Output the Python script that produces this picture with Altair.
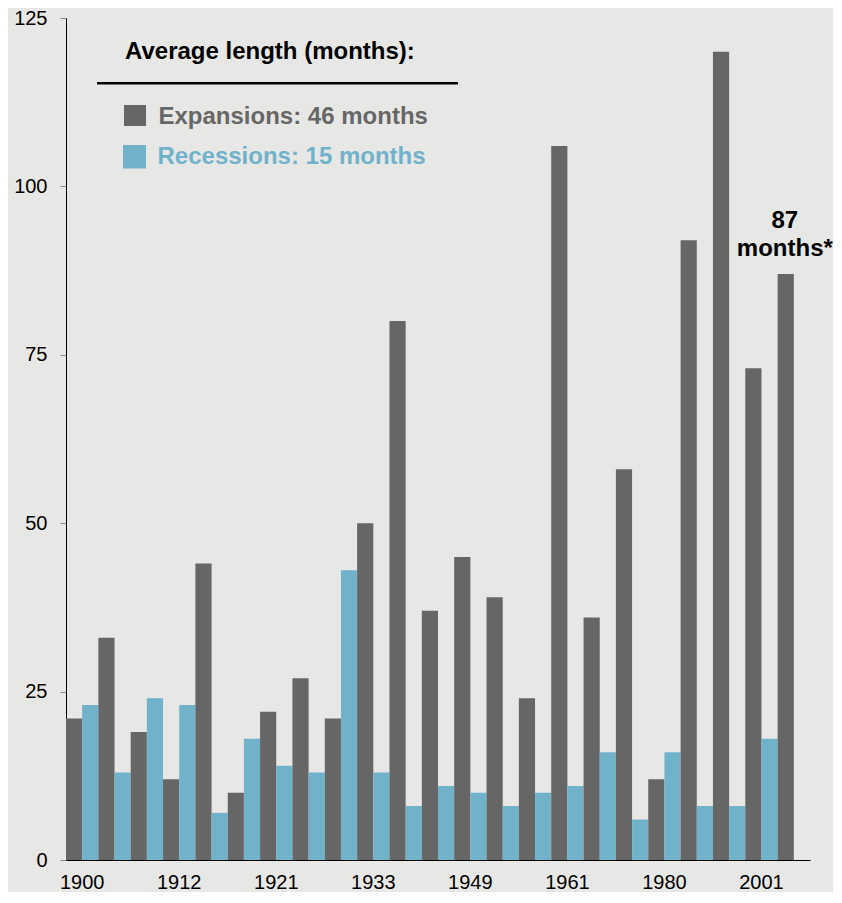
import altair as alt
import pandas as pd

# ---- data ----
years = ["1900", "1904", "1908", "1912", "1914", "1919", "1921", "1924", "1927",
         "1933", "1938", "1945", "1949", "1954", "1958", "1961", "1970", "1975",
         "1980", "1982", "1991", "2001", "2009"]
expansions = [21, 33, 19, 12, 44, 10, 22, 27, 21, 50, 80, 37, 45, 39, 24, 106,
              36, 58, 12, 92, 120, 73, 87]
recessions = [23, 13, 24, 23, 7, 18, 14, 13, 43, 13, 8, 11, 10, 8, 10, 11, 16,
              6, 16, 8, 8, 18]
shown_years = ["1900", "1912", "1921", "1933", "1949", "1961", "1980", "2001"]
series_names = ["Expansions", "Recessions"]
series_colors = ["#666666", "#71b2cb"]
legend_title = "Average length (months):"
legend_labels = ["Expansions: 46 months", "Recessions: 15 months"]
y_ticks = [0, 25, 50, 75, 100, 125]
note_lines = ["87", "months*"]

FONT = "Liberation Sans"
BG = "#e7e7e5"

rows = []
for i, yr in enumerate(years):
    rows.append({"year": yr, "series": series_names[0], "months": expansions[i]})
    if i < len(recessions):
        rows.append({"year": yr, "series": series_names[1], "months": recessions[i]})
df = pd.DataFrame(rows)

x_enc = alt.X(
    "year:N", sort=years, title=None,
    scale=alt.Scale(domain=years, paddingInner=0, paddingOuter=0),
    axis=alt.Axis(values=shown_years, ticks=False, labelAngle=0, labelFontSize=20,
                  labelFont=FONT, labelColor="black", labelPadding=12,
                  domainColor="black", domainWidth=1, grid=False),
)
y_enc = alt.Y(
    "months:Q", title=None,
    scale=alt.Scale(domain=[0, 125], nice=False),
    axis=alt.Axis(values=y_ticks, grid=False, labelFontSize=20, labelFont=FONT,
                  labelColor="black", labelPadding=13, tickSize=6, tickColor="#8a8a8a",
                  tickWidth=1, domainColor="black", domainWidth=1),
)

bars = alt.Chart(df).mark_bar().encode(
    x=x_enc,
    xOffset=alt.XOffset("series:N", sort=series_names,
                        scale=alt.Scale(domain=series_names, paddingInner=0, paddingOuter=0)),
    y=y_enc,
    color=alt.Color("series:N", scale=alt.Scale(domain=series_names, range=series_colors),
                    legend=None),
)

# ---- custom legend ----
one = pd.DataFrame({"k": [0]})
title_txt = alt.Chart(pd.DataFrame({"t": [legend_title]})).mark_text(
    align="left", baseline="alphabetic", fontSize=24, fontWeight="bold", font=FONT,
    color="black"
).encode(x=alt.value(59), y=alt.value(41), text="t:N")

rule = alt.Chart(one).mark_rule(color="black", strokeWidth=2.5).encode(
    x=alt.value(31), x2=alt.value(392), y=alt.value(65.3)
)

sq1 = alt.Chart(one).mark_rect(color=series_colors[0]).encode(
    x=alt.value(58), x2=alt.value(80), y=alt.value(87), y2=alt.value(108)
)
sq2 = alt.Chart(one).mark_rect(color=series_colors[1]).encode(
    x=alt.value(57), x2=alt.value(80), y=alt.value(127), y2=alt.value(150.5)
)
lab1 = alt.Chart(pd.DataFrame({"t": [legend_labels[0]]})).mark_text(
    align="left", baseline="alphabetic", fontSize=24, fontWeight="bold", font=FONT,
    color="#676767"
).encode(x=alt.value(92.5), y=alt.value(106), text="t:N")
lab2 = alt.Chart(pd.DataFrame({"t": [legend_labels[1]]})).mark_text(
    align="left", baseline="alphabetic", fontSize=24, fontWeight="bold", font=FONT,
    color=series_colors[1]
).encode(x=alt.value(91.5), y=alt.value(145.7), text="t:N")

# ---- annotation above last bar ----
note_df = pd.DataFrame({"year": [years[-1]], "months": [expansions[-1]],
                        "l1": [note_lines[0]], "l2": [note_lines[1]]})
note1 = alt.Chart(note_df).mark_text(
    align="center", baseline="alphabetic", fontSize=24, fontWeight="bold", font=FONT,
    color="black", dx=-9, dy=-46
).encode(x=alt.X("year:N", sort=years), y="months:Q", text="l1:N")
note2 = alt.Chart(note_df).mark_text(
    align="center", baseline="alphabetic", fontSize=24, fontWeight="bold", font=FONT,
    color="black", dx=-9, dy=-18
).encode(x=alt.X("year:N", sort=years), y="months:Q", text="l2:N")

chart = alt.layer(bars, title_txt, rule, sq1, sq2, lab1, lab2, note1, note2).properties(
    width=744, height=842,
    background=BG,
    padding={"left": 5, "top": 0, "right": 0, "bottom": 0},
).configure_view(stroke=None)

chart.save("out.html", embed_options={"renderer": "svg", "actions": False})
